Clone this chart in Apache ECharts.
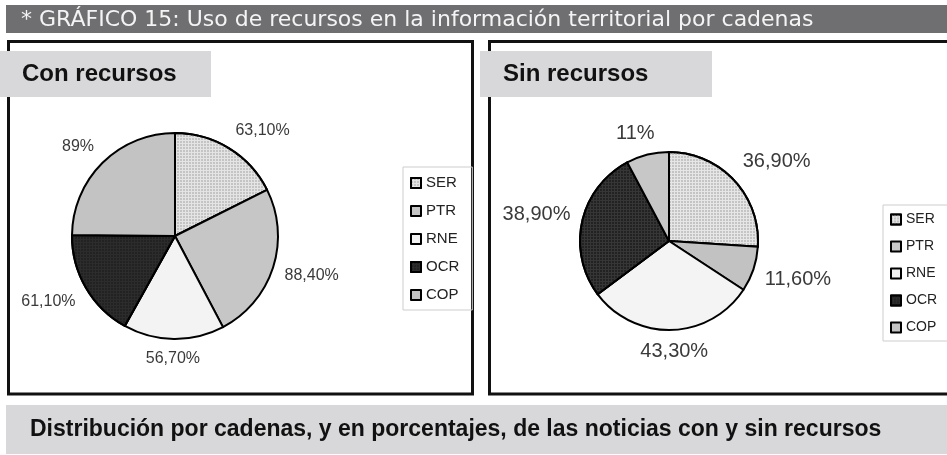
<!DOCTYPE html>
<html><head><meta charset="utf-8">
<script src="https://cdn.jsdelivr.net/npm/echarts@6/dist/echarts.min.js"></script>
<style>html,body{margin:0;padding:0;background:#fff}#c{width:947px;height:455px}</style>
</head><body><div id="c"></div>
<script>
// ---- data ----
const categories = ['SER', 'PTR', 'RNE', 'OCR', 'COP'];
const conRecursos = [63.1, 88.4, 56.7, 61.1, 89];
const sinRecursos = [36.9, 11.6, 43.3, 38.9, 11];
const titleText = '* GRÁFICO 15: Uso de recursos en la información territorial por cadenas';
const panelTitles = ['Con recursos', 'Sin recursos'];
const captionText = 'Distribución por cadenas, y en porcentajes, de las noticias con y sin recursos';

// ---- styles ----
const leftColors = ['#e4e4e4', '#c6c6c6', '#f3f3f3', '#2c2c2c', '#c3c3c3'];
const rightColors = ['#e6e6e6', '#c2c2c2', '#f4f4f4', '#363636', '#c7c7c7'];
const gridDecal = (c) => ({ symbol: 'rect', symbolSize: 1, dashArrayX: [2, 1], dashArrayY: [2, 1], color: c, rotation: 0 });
const decals = [gridDecal('#c4c4c4'), null, null, gridDecal('#222222'), null];
const FONT = '"Liberation Sans", Arial, sans-serif';

function fmt(v) {
  return Number.isInteger(v) ? v + '%' : v.toFixed(2).replace('.', ',') + '%';
}
function placeLabel(params) {
  const pts = params.labelLinePoints;
  if (!pts) return {};
  let ux = pts[1][0] - pts[0][0], uy = pts[1][1] - pts[0][1];
  const n = Math.hypot(ux, uy) || 1; ux /= n; uy /= n;
  const w = params.labelRect.width, h = params.labelRect.height;
  const kx = Math.max(-1, Math.min(1, 2 * ux)), ky = Math.max(-1, Math.min(1, 2 * uy));
  return { x: pts[1][0] + kx * w / 2, y: pts[1][1] + ky * h / 2, align: 'center', verticalAlign: 'middle' };
}
function pieSeries(name, values, colors, center, radius, fontSize) {
  return {
    type: 'pie', name: name, center: center, radius: radius,
    startAngle: 90, clockwise: true, avoidLabelOverlap: false,
    itemStyle: { borderColor: '#000', borderWidth: 2 },
    label: { show: true, position: 'outside', formatter: p => fmt(p.value),
      fontFamily: FONT, fontSize: fontSize, color: '#3a3a3a', distanceToLabelLine: 0 },
    labelLine: { show: true, length: 12, length2: 0, lineStyle: { opacity: 0 } },
    labelLayout: placeLabel,
    emphasis: { disabled: true },
    data: categories.map((c, i) => {
      const it = { name: c, value: values[i], itemStyle: { color: colors[i] } };
      if (decals[i]) it.itemStyle.decal = decals[i];
      return it;
    })
  };
}
function legendCfg(left, top, fontSize, lh, gap, pad) {
  return {
    data: categories, orient: 'vertical', left: left, top: top, icon: 'rect',
    itemWidth: 10, itemHeight: 10, itemGap: gap, itemTextGap: 4,
    padding: pad, borderColor: '#cdcdcd', borderWidth: 1, selectedMode: false,
    itemStyle: { borderColor: '#000', borderWidth: 2 },
    textStyle: { fontFamily: FONT, fontSize: fontSize, lineHeight: lh, color: '#222' }
  };
}

const chart = echarts.init(document.getElementById('c'), null, { renderer: 'canvas' });
chart.setOption({
  animation: false,
  backgroundColor: '#ffffff',
  legend: [
    legendCfg(403, 167, 15, 16, 12, [8, 13, 7, 7]),
    legendCfg(883, 205, 14, 15, 12, [7, 12, 6, 7])
  ],
  graphic: [
    { type: 'rect', shape: { x: 6, y: 5, width: 941, height: 28 }, style: { fill: '#6f6f71' } },
    { type: 'text', x: 21, y: 20, style: { text: titleText, font: 'normal 22px "DejaVu Sans", sans-serif', fill: '#f4f4f4', verticalAlign: 'middle' } },
    { type: 'rect', shape: { x: 8.5, y: 41.5, width: 464, height: 352.5 }, style: { fill: 'none', stroke: '#111', lineWidth: 3 } },
    { type: 'rect', shape: { x: 489.5, y: 41.5, width: 470, height: 352.5 }, style: { fill: 'none', stroke: '#111', lineWidth: 3 } },
    { type: 'rect', shape: { x: 0, y: 51, width: 211, height: 46 }, style: { fill: '#d8d8da' } },
    { type: 'text', x: 22, y: 74, style: { text: panelTitles[0], font: 'bold 24px ' + FONT, fill: '#111', verticalAlign: 'middle' } },
    { type: 'rect', shape: { x: 480, y: 51, width: 232, height: 46 }, style: { fill: '#d8d8da' } },
    { type: 'text', x: 503, y: 74, style: { text: panelTitles[1], font: 'bold 24px ' + FONT, fill: '#111', verticalAlign: 'middle' } },
    { type: 'rect', shape: { x: 6, y: 405, width: 941, height: 49 }, style: { fill: '#d8d8da' } },
    { type: 'text', x: 30, y: 430, style: { text: captionText, font: 'bold 23px ' + FONT, fill: '#111', verticalAlign: 'middle' } }
  ],
  series: [
    pieSeries(panelTitles[0], conRecursos, leftColors, [175, 236], 103, 16),
    pieSeries(panelTitles[1], sinRecursos, rightColors, [669, 241], 89, 20)
  ]
});
</script>
</body></html>
